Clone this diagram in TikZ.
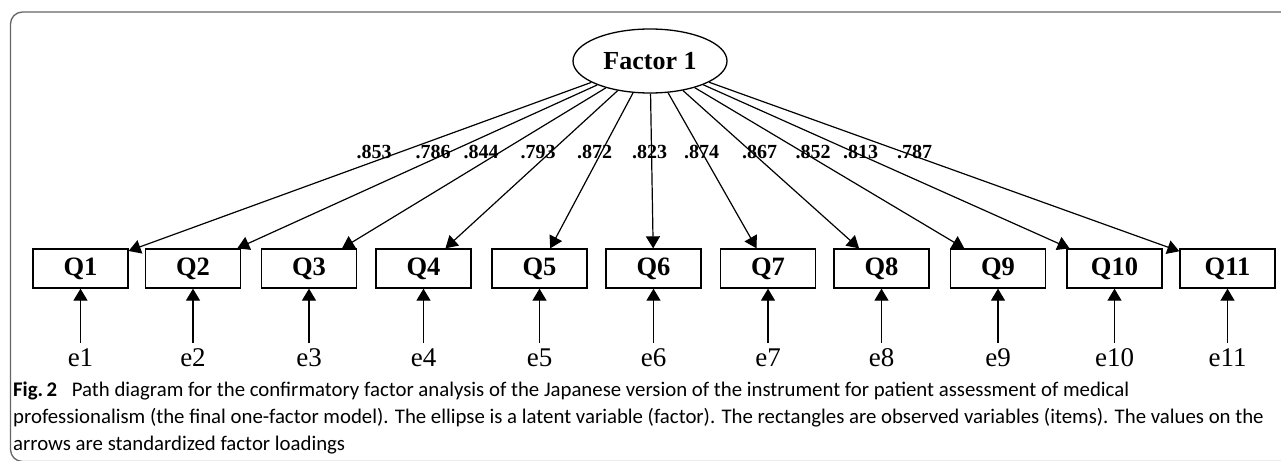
\documentclass[tikz,border=0pt]{standalone}
\usepackage{fontspec}
\setmainfont{Liberation Serif}
\newfontfamily\capfont{Carlito}
\usetikzlibrary{arrows.meta,shapes.geometric}

\begin{document}
\begin{tikzpicture}[x=1pt,y=-1pt,
  latent/.style={ellipse, draw, line width=1.3pt, minimum width=154pt,
    minimum height=64pt, inner sep=0pt, font=\fontsize{26}{30}\selectfont\bfseries},
  item/.style={rectangle, draw, line width=1.3pt, minimum width=95pt,
    minimum height=39pt, inner sep=0pt, font=\fontsize{26.5}{30}\selectfont\bfseries},
  errlabel/.style={inner xsep=0pt, inner ysep=5pt, anchor=base,
    font=\fontsize{27}{30}\selectfont},
  loadlabel/.style={inner sep=0pt, anchor=base, font=\fontsize{20}{24}\selectfont\bfseries},
  semarrow/.style={-{Triangle[length=12pt,width=14pt]}, line width=1.2pt},
  panelframe/.style={draw=black!60, line width=1.3pt, rounded corners=12pt},
  captext/.style={inner sep=0pt, anchor=base west, font=\capfont\fontsize{20.8}{26}\selectfont}
]
\useasboundingbox (0,0) rectangle (1281,460);
\fill[white] (0,0) rectangle (1281,460);
\clip (0,0) rectangle (1281,460);

% panel frame (open towards the right and bottom)
\draw[panelframe] (10.5,12) rectangle (1300,461.5);

% latent factor
\node[latent] (F) at (650,61) {Factor 1};

% observed items, error terms and factor loadings
\foreach \i/\x/\lx/\lv in {1/80.5/374/.853, 2/193/433/.786, 3/309/481/.844,
    4/423.5/538/.793, 5/539.5/594.5/.872, 6/653.5/649.5/.823, 7/768/701.5/.874,
    8/881.5/759.5/.867, 9/998/813/.852, 10/1114.5/860.5/.813, 11/1227.5/914.5/.787} {
  \node[item] (Q\i) at (\x,268.5) {Q\i};
  \node[errlabel] (e\i) at (\x,366) {e\i};
  \draw[semarrow] (F) -- (Q\i);
  \draw[semarrow] (e\i) -- (Q\i);
  \node[loadlabel] (L\i) at (\lx,158) {\lv};
}

% caption
\node[captext] (cap1) at (13,396) {{\bfseries Fig.\,2}\hspace{0.7em}Path diagram for the confirmatory factor analysis of the Japanese version of the instrument for patient assessment of medical};
\node[captext] (cap2) at (13,423) {professionalism (the final one-factor model). The ellipse is a latent variable (factor). The rectangles are observed variables (items). The values on the};
\node[captext] (cap3) at (13,450) {arrows are standardized factor loadings};
\end{tikzpicture}
\end{document}
